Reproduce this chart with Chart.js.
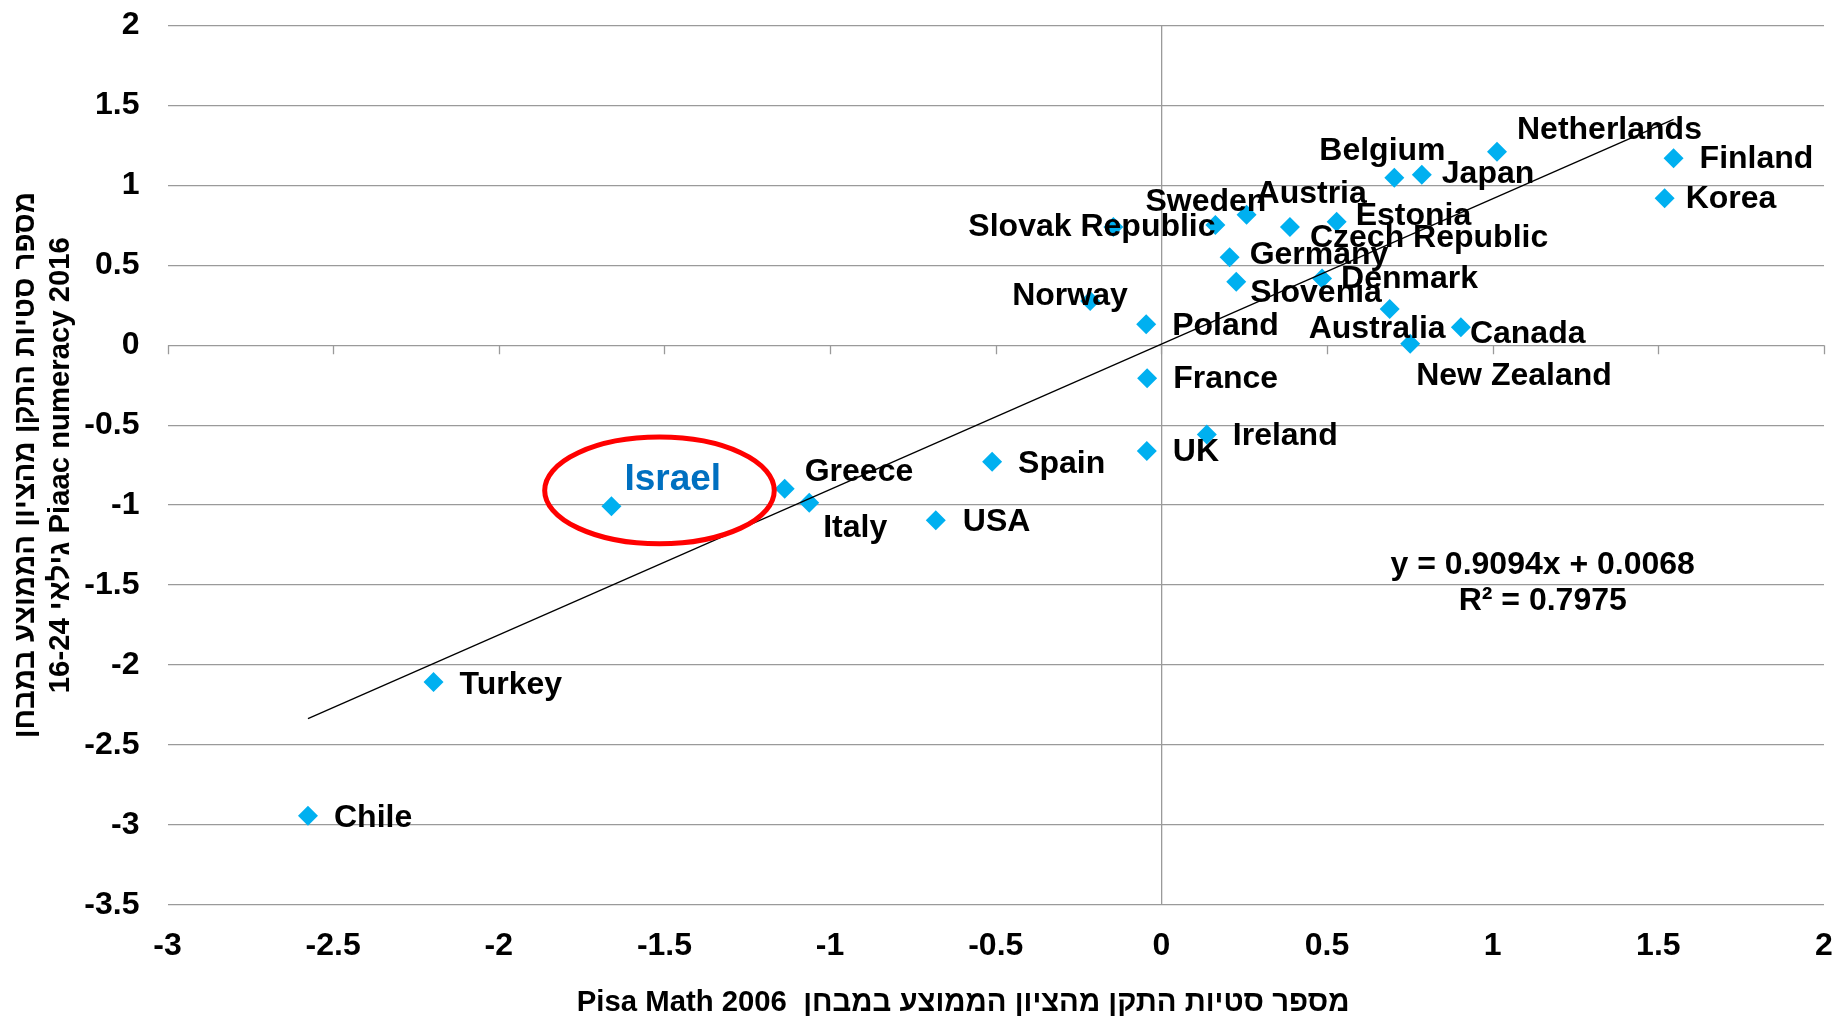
<!DOCTYPE html>
<html><head><meta charset="utf-8">
<script src="https://cdn.jsdelivr.net/npm/chart.js@4/dist/chart.umd.min.js"></script>
<style>html,body{margin:0;padding:0;background:#fff;}canvas{display:block;}</style>
</head><body>
<canvas id="c" width="1837" height="1020"></canvas>
<script>
// ---- data ----
const countries = ["Chile","Turkey","Israel","Greece","Italy","USA","Spain","UK","Ireland","France","Poland","Norway","Slovak Republic","Sweden","Austria","Czech Republic","Estonia","Germany","Slovenia","Denmark","Australia","Canada","New Zealand","Belgium","Japan","Netherlands","Finland","Korea"];
const pisaMath2006 = [-2.576,-2.197,-1.660,-1.137,-1.063,-0.681,-0.511,-0.044,0.137,-0.043,-0.046,-0.215,-0.145,0.163,0.257,0.388,0.529,0.206,0.226,0.485,0.689,0.904,0.751,0.703,0.786,1.013,1.546,1.519];
const piaacNumeracy2016 = [-2.943,-2.107,-1.007,-0.897,-0.985,-1.095,-0.728,-0.661,-0.559,-0.206,0.132,0.276,0.739,0.752,0.816,0.739,0.772,0.551,0.397,0.418,0.226,0.113,0.009,1.048,1.066,1.210,1.170,0.920];
const xTickValues = [-3,-2.5,-2,-1.5,-1,-0.5,0,0.5,1,1.5,2];
const xTickLabels = ["-3","-2.5","-2","-1.5","-1","-0.5","0","0.5","1","1.5","2"];
const yTickValues = [-3.5,-3,-2.5,-2,-1.5,-1,-0.5,0,0.5,1,1.5,2];
const yTickLabels = ["-3.5","-3","-2.5","-2","-1.5","-1","-0.5","0","0.5","1","1.5","2"];
const trendSlope = 0.9094;
const trendIntercept = 0.0068;
const trendText = ["y = 0.9094x + 0.0068", "R\u00B2 = 0.7975"];
const highlightedCountry = "Israel";
const xAxisTitle = "Pisa Math 2006  \u05DE\u05E1\u05E4\u05E8 \u05E1\u05D8\u05D9\u05D5\u05EA \u05D4\u05EA\u05E7\u05DF \u05DE\u05D4\u05E6\u05D9\u05D5\u05DF \u05D4\u05DE\u05DE\u05D5\u05E6\u05E2 \u05D1\u05DE\u05D1\u05D7\u05DF        ";
const yAxisTitle = ["\u05DE\u05E1\u05E4\u05E8 \u05E1\u05D8\u05D9\u05D5\u05EA \u05D4\u05EA\u05E7\u05DF \u05DE\u05D4\u05E6\u05D9\u05D5\u05DF \u05D4\u05DE\u05DE\u05D5\u05E6\u05E2 \u05D1\u05DE\u05D1\u05D7\u05DF", "16-24 \u05D2\u05D9\u05DC\u05D0\u05D9 Piaac numeracy 2016"];

// ---- label placement (pixels from marker: left edge of text, vertical centre) ----
const labelPlacement = {
  "Chile":[26,2],"Turkey":[26,3],"Israel":[13,-26],"Greece":[20,-16],"Italy":[14,25],
  "USA":[27,2],"Spain":[26,3],"UK":[26,1],"Ireland":[26,2],"France":[26,1],"Poland":[26,2],
  "Norway":[-78,-5],"Slovak Republic":[-145,0],"Sweden":[-70,-23],"Austria":[10,-21],
  "Czech Republic":[20,11],"Estonia":[19,-6],"Germany":[20,-2],"Slovenia":[14,11],
  "Denmark":[19,1],"Australia":[-81,20],"Canada":[9,7],"New Zealand":[6,32],
  "Belgium":[-75,-27],"Japan":[20,-1],"Netherlands":[20,-22],"Finland":[26,1],"Korea":[21,1]
};
const highlightEllipse = {cx:-1.515, cy:-0.908, rx:0.3465, ry:0.3337};
const equationAnchor = {x:1.151, y:-1.487};

const FONT = "'Liberation Sans', Arial, sans-serif";
const gridColor = "#9a9a9a";
const markerColor = "#00B0F0";

const points = pisaMath2006.map((x,i)=>({x:x, y:piaacNumeracy2016[i]}));
const xMin = Math.min(...pisaMath2006), xMax = Math.max(...pisaMath2006);
const trendPoints = [xMin, xMax].map(x=>({x:x, y:trendSlope*x+trendIntercept}));

const overlays = {
  id:'overlays',
  beforeDatasetsDraw(chart){
    const {ctx, scales:{x,y}} = chart;
    const y0 = y.getPixelForValue(0);
    ctx.save();
    ctx.strokeStyle = gridColor; ctx.lineWidth = 1.3;
    xTickValues.forEach(v=>{
      const px = Math.round(x.getPixelForValue(v))+0.5;
      ctx.beginPath(); ctx.moveTo(px, y0); ctx.lineTo(px, y0+9); ctx.stroke();
    });
    ctx.restore();
  },
  afterDatasetDraw(chart, args){
    if (args.index !== 0) return;
    const {ctx} = chart;
    const meta = chart.getDatasetMeta(0);
    ctx.save();
    ctx.textBaseline = 'middle'; ctx.textAlign = 'left';
    meta.data.forEach((pt,i)=>{
      const name = countries[i];
      const off = labelPlacement[name] || [20,0];
      if (name === highlightedCountry) {
        ctx.font = "bold 37px " + FONT; ctx.fillStyle = "#0070C0";
      } else {
        ctx.font = "bold 32px " + FONT; ctx.fillStyle = "#000";
      }
      ctx.fillText(name, pt.x+off[0], pt.y+off[1]);
    });
    ctx.restore();
  },
  afterDatasetsDraw(chart){
    const {ctx, scales:{x,y}} = chart;
    ctx.save();
    const cx = x.getPixelForValue(highlightEllipse.cx), cy = y.getPixelForValue(highlightEllipse.cy);
    const rx = Math.abs(x.getPixelForValue(highlightEllipse.cx+highlightEllipse.rx)-cx);
    const ry = Math.abs(y.getPixelForValue(highlightEllipse.cy+highlightEllipse.ry)-cy);
    ctx.strokeStyle = "#FF0000"; ctx.lineWidth = 5;
    ctx.beginPath(); ctx.ellipse(cx, cy, rx, ry, 0, 0, Math.PI*2); ctx.stroke();
    const ex = x.getPixelForValue(equationAnchor.x), ey = y.getPixelForValue(equationAnchor.y);
    ctx.font = "bold 32px " + FONT; ctx.fillStyle = "#000";
    ctx.textAlign = 'center'; ctx.textBaseline = 'middle';
    ctx.fillText(trendText[0], ex, ey-18);
    ctx.fillText(trendText[1], ex, ey+18);
    ctx.restore();
  }
};

new Chart(document.getElementById('c'), {
  data:{
    datasets:[
      {type:'scatter', label:'countries', data:points, order:2,
       pointStyle:'rectRot', pointRadius:10, pointHoverRadius:10,
       backgroundColor:markerColor, borderColor:markerColor, borderWidth:0},
      {type:'line', label:'trend', data:trendPoints, order:1,
       borderColor:'#000', borderWidth:1.3, pointRadius:0, fill:false, tension:0}
    ]
  },
  options:{
    responsive:false, animation:false, events:[],
    layout:{padding:{top:25.5, right:13, bottom:0, left:0}},
    plugins:{legend:{display:false}, tooltip:{enabled:false}},
    scales:{
      x:{type:'linear', min:-3, max:2,
        afterBuildTicks:s=>{ s.ticks = xTickValues.map(v=>({value:v})); },
        afterFit:s=>{ s.height = 115.2; s.paddingLeft = 0; s.paddingRight = 0; },
        border:{display:false},
        grid:{drawTicks:false, lineWidth:1.3, color:c=> (c.tick && c.tick.value===0) ? gridColor : 'rgba(0,0,0,0)'},
        ticks:{padding:22, maxRotation:0, autoSkip:false, color:'#000', font:{family:FONT, size:32, weight:'bold'},
          callback:(v,i)=>xTickLabels[i]},
        title:{display:true, text:xAxisTitle, color:'#000', padding:{top:0,bottom:1}, font:{family:FONT, size:29.3, weight:'bold', lineHeight:1.1}}
      },
      y:{type:'linear', min:-3.5, max:2,
        afterBuildTicks:s=>{ s.ticks = yTickValues.map(v=>({value:v})); },
        afterFit:s=>{ s.width = 167.5; s.paddingTop = 0; s.paddingBottom = 0; },
        border:{display:false},
        grid:{drawTicks:false, lineWidth:1.3, color:gridColor},
        ticks:{padding:28, autoSkip:false, color:'#000', font:{family:FONT, size:32, weight:'bold'},
          callback:(v,i)=>yTickLabels[i]},
        title:{display:true, text:yAxisTitle, color:'#000', padding:{top:8,bottom:0}, font:{family:FONT, size:29.3, weight:'bold', lineHeight:1.2}}
      }
    }
  },
  plugins:[overlays]
});
</script>
</body></html>
